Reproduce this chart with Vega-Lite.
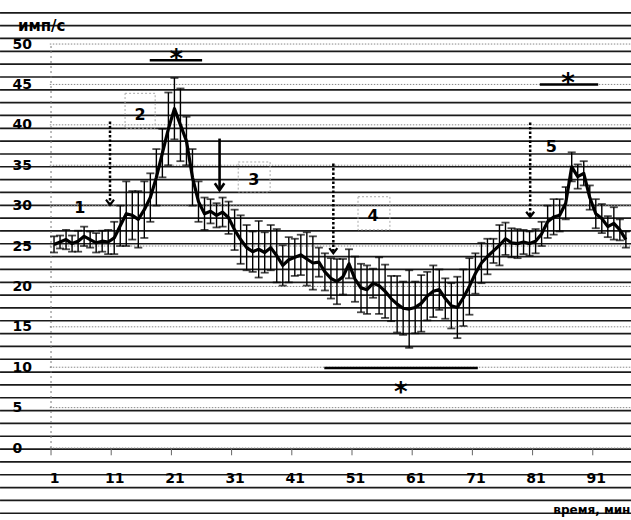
{
  "$schema": "https://vega.github.io/schema/vega-lite/v6.json",
  "width": 591,
  "height": 470,
  "padding": {"left": 40, "top": 0, "right": 0, "bottom": 50},
  "autosize": {"type": "none"},
  "background": "white",
  "config": {"view": {"stroke": null}},
  "datasets": {
    "pts": [
      {"t":1,"m":25.2,"lo":24.2,"hi":26.2},{"t":2,"m":25.5,"lo":24.7,"hi":26.3},{"t":3,"m":25.8,"lo":24.6,"hi":27.0},{"t":4,"m":25.3,"lo":24.3,"hi":26.3},{"t":5,"m":25.6,"lo":24.3,"hi":26.9},{"t":6,"m":26.2,"lo":25.0,"hi":27.4},{"t":7,"m":25.8,"lo":24.8,"hi":26.8},{"t":8,"m":25.4,"lo":24.2,"hi":26.6},{"t":9,"m":25.6,"lo":24.3,"hi":26.9},{"t":10,"m":25.5,"lo":24.0,"hi":27.0},
      {"t":11,"m":26.0,"lo":24.0,"hi":28.0},{"t":12,"m":27.5,"lo":25.0,"hi":30.0},{"t":13,"m":29.0,"lo":25.0,"hi":33.0},{"t":14,"m":28.8,"lo":25.8,"hi":31.8},{"t":15,"m":28.3,"lo":24.8,"hi":31.8},{"t":16,"m":29.5,"lo":26.0,"hi":33.0},{"t":17,"m":31.0,"lo":28.0,"hi":34.0},{"t":18,"m":33.5,"lo":30.0,"hi":37.0},{"t":19,"m":36.5,"lo":33.5,"hi":39.5},{"t":20,"m":39.5,"lo":35.0,"hi":44.0},
      {"t":21,"m":42.0,"lo":38.2,"hi":45.8},{"t":22,"m":40.0,"lo":35.5,"hi":44.5},{"t":23,"m":38.0,"lo":35.0,"hi":41.0},{"t":24,"m":33.5,"lo":30.0,"hi":37.0},{"t":25,"m":30.5,"lo":28.0,"hi":33.0},{"t":26,"m":29.0,"lo":27.0,"hi":31.0},{"t":27,"m":29.3,"lo":27.8,"hi":30.8},{"t":28,"m":28.8,"lo":27.3,"hi":30.3},{"t":29,"m":29.2,"lo":27.4,"hi":31.0},{"t":30,"m":28.5,"lo":26.5,"hi":30.5},
      {"t":31,"m":27.0,"lo":24.5,"hi":29.5},{"t":32,"m":25.8,"lo":22.8,"hi":28.8},{"t":33,"m":24.8,"lo":22.0,"hi":27.6},{"t":34,"m":24.3,"lo":21.8,"hi":26.8},{"t":35,"m":24.6,"lo":21.1,"hi":28.1},{"t":36,"m":24.2,"lo":21.7,"hi":26.7},{"t":37,"m":24.8,"lo":22.0,"hi":27.6},{"t":38,"m":23.8,"lo":20.5,"hi":27.1},{"t":39,"m":22.6,"lo":20.1,"hi":25.1},{"t":40,"m":23.3,"lo":20.5,"hi":26.1},
      {"t":41,"m":23.6,"lo":21.3,"hi":25.9},{"t":42,"m":23.9,"lo":21.4,"hi":26.4},{"t":43,"m":23.4,"lo":20.1,"hi":26.7},{"t":44,"m":22.9,"lo":19.6,"hi":26.2},{"t":45,"m":23.0,"lo":21.2,"hi":24.8},{"t":46,"m":21.8,"lo":19.5,"hi":24.1},{"t":47,"m":21.0,"lo":18.5,"hi":23.5},{"t":48,"m":20.6,"lo":17.8,"hi":23.4},{"t":49,"m":21.2,"lo":19.0,"hi":23.4},{"t":50,"m":22.8,"lo":21.0,"hi":24.6},
      {"t":51,"m":20.9,"lo":18.1,"hi":23.7},{"t":52,"m":19.8,"lo":16.8,"hi":22.8},{"t":53,"m":19.6,"lo":16.6,"hi":22.6},{"t":54,"m":20.4,"lo":18.6,"hi":22.2},{"t":55,"m":20.1,"lo":16.6,"hi":23.6},{"t":56,"m":19.4,"lo":16.1,"hi":22.7},{"t":57,"m":18.5,"lo":15.7,"hi":21.3},{"t":58,"m":17.8,"lo":14.3,"hi":21.3},{"t":59,"m":17.3,"lo":14.0,"hi":20.6},{"t":60,"m":17.2,"lo":12.4,"hi":22.0},
      {"t":61,"m":17.4,"lo":14.2,"hi":20.6},{"t":62,"m":17.9,"lo":14.4,"hi":21.4},{"t":63,"m":18.8,"lo":15.8,"hi":21.8},{"t":64,"m":19.4,"lo":16.2,"hi":22.6},{"t":65,"m":19.6,"lo":17.1,"hi":22.1},{"t":66,"m":18.5,"lo":16.0,"hi":21.0},{"t":67,"m":17.6,"lo":14.8,"hi":20.4},{"t":68,"m":17.4,"lo":13.6,"hi":21.2},{"t":69,"m":18.6,"lo":15.1,"hi":22.1},{"t":70,"m":20.0,"lo":16.5,"hi":23.5},
      {"t":71,"m":21.6,"lo":19.1,"hi":24.1},{"t":72,"m":22.9,"lo":20.4,"hi":25.4},{"t":73,"m":23.7,"lo":21.5,"hi":25.9},{"t":74,"m":24.4,"lo":22.9,"hi":25.9},{"t":75,"m":25.1,"lo":22.6,"hi":27.6},{"t":76,"m":25.9,"lo":23.9,"hi":27.9},{"t":77,"m":25.4,"lo":23.6,"hi":27.2},{"t":78,"m":25.3,"lo":23.5,"hi":27.1},{"t":79,"m":25.5,"lo":24.0,"hi":27.0},{"t":80,"m":25.3,"lo":23.8,"hi":26.8},
      {"t":81,"m":25.6,"lo":24.1,"hi":27.1},{"t":82,"m":26.5,"lo":25.0,"hi":28.0},{"t":83,"m":28.0,"lo":26.0,"hi":30.0},{"t":84,"m":28.6,"lo":26.4,"hi":30.8},{"t":85,"m":28.8,"lo":26.8,"hi":30.8},{"t":86,"m":30.3,"lo":28.3,"hi":32.3},{"t":87,"m":34.8,"lo":33.0,"hi":36.6},{"t":88,"m":33.6,"lo":32.1,"hi":35.1},{"t":89,"m":34.0,"lo":32.5,"hi":35.5},{"t":90,"m":31.0,"lo":29.5,"hi":32.5},
      {"t":91,"m":29.0,"lo":27.2,"hi":30.8},{"t":92,"m":28.4,"lo":26.6,"hi":30.2},{"t":93,"m":27.4,"lo":26.1,"hi":28.7},{"t":94,"m":27.8,"lo":25.8,"hi":29.8},{"t":95,"m":27.0,"lo":25.7,"hi":28.3},{"t":96,"m":25.8,"lo":24.8,"hi":26.8}
    ],
    "paper": [
      {"v":53.86},{"v":52.27},{"v":50.69},{"v":49.10},{"v":47.51},{"v":45.92},{"v":44.33},{"v":42.75},{"v":41.16},{"v":39.57},
      {"v":37.98},{"v":36.39},{"v":34.81},{"v":33.22},{"v":31.63},{"v":30.04},{"v":28.45},{"v":26.87},{"v":25.28},{"v":23.69},
      {"v":22.10},{"v":20.51},{"v":18.93},{"v":17.34},{"v":15.75},{"v":14.16},{"v":12.57},{"v":10.99},{"v":9.40},{"v":7.81},
      {"v":6.22},{"v":4.64},{"v":3.05},{"v":1.46},{"v":-0.13},{"v":-1.72},{"v":-3.31},{"v":-4.89},{"v":-6.48},{"v":-8.07}
    ],
    "grid": [{"v":0},{"v":5},{"v":10},{"v":15},{"v":20},{"v":25},{"v":30},{"v":35},{"v":40},{"v":45},{"v":50}],
    "ticks": [{"t":0.5},{"t":10.5},{"t":20.5},{"t":30.5},{"t":40.5},{"t":50.5},{"t":60.5},{"t":70.5},{"t":80.5},{"t":90.5}],
    "boxes": [
      {"a":12.8,"b":17.8,"c":39.6,"d":43.9},
      {"a":31.6,"b":36.9,"c":31.7,"d":35.4},
      {"a":51.5,"b":56.8,"c":27.0,"d":31.1}
    ],
    "sig": [
      {"a":16.9,"b":25.6,"v":48.0},
      {"a":81.7,"b":91.4,"v":45.0},
      {"a":45.9,"b":71.4,"v":9.9}
    ],
    "stars": [
      {"t":21.3,"v":48.9,"s":"*"},
      {"t":86.4,"v":45.9,"s":"*"},
      {"t":58.6,"v":7.7,"s":"*"}
    ],
    "darrows": [
      {"t":10.3,"top":40.4,"tip":30.1},
      {"t":47.4,"top":35.2,"tip":24.1},
      {"t":80.1,"top":40.3,"tip":28.6}
    ],
    "sarrows": [
      {"t":28.5,"top":38.3,"tip":31.9}
    ],
    "labels": [
      {"t":5.3,"v":29.7,"s":"1"},
      {"t":15.3,"v":41.2,"s":"2"},
      {"t":34.2,"v":33.2,"s":"3"},
      {"t":54.0,"v":28.7,"s":"4"},
      {"t":83.6,"v":37.3,"s":"5"}
    ]
  },
  "layer": [
    {
      "data": {"name": "paper"},
      "mark": {"type": "rule", "stroke": "#1a1a1a", "strokeWidth": 1.7},
      "encoding": {
        "x": {"datum": -7.97, "type": "quantitative", "scale": {"domain": [-1.33, 96.85], "nice": false, "zero": false}},
        "x2": {"datum": 96.85},
        "y": {"field": "v", "type": "quantitative", "scale": {"domain": [-2.72, 55.45], "nice": false, "zero": false}}
      }
    },
    {
      "data": {"name": "grid"},
      "mark": {"type": "rule", "stroke": "#888", "strokeWidth": 1, "strokeDash": [1.5, 1.5]},
      "encoding": {
        "x": {"datum": 0.3, "type": "quantitative"},
        "x2": {"datum": 96.85},
        "y": {"field": "v", "type": "quantitative"}
      }
    },
    {
      "data": {"values": [{"a": 0}]},
      "mark": {"type": "rule", "stroke": "#777", "strokeWidth": 1, "strokeDash": [2, 3]},
      "encoding": {
        "x": {"datum": 0.5, "type": "quantitative"},
        "y": {"datum": 0, "type": "quantitative"},
        "y2": {"datum": 50}
      }
    },
    {
      "data": {"name": "ticks"},
      "mark": {"type": "rule", "stroke": "#666", "strokeWidth": 1},
      "encoding": {
        "x": {"field": "t", "type": "quantitative"},
        "y": {"datum": 0, "type": "quantitative"},
        "y2": {"datum": -0.9}
      }
    },
    {
      "data": {"name": "boxes"},
      "mark": {"type": "rect", "fill": null, "stroke": "#aaa", "strokeWidth": 1, "strokeDash": [2, 2]},
      "encoding": {
        "x": {"field": "a", "type": "quantitative"},
        "x2": {"field": "b"},
        "y": {"field": "c", "type": "quantitative"},
        "y2": {"field": "d"}
      }
    },
    {
      "data": {"name": "pts"},
      "mark": {"type": "rule", "stroke": "#000", "strokeWidth": 1.4},
      "encoding": {
        "x": {"field": "t", "type": "quantitative"},
        "y": {"field": "lo", "type": "quantitative"},
        "y2": {"field": "hi"}
      }
    },
    {
      "data": {"name": "pts"},
      "mark": {"type": "tick", "orient": "horizontal", "color": "#000", "size": 8, "thickness": 1.8},
      "encoding": {
        "x": {"field": "t", "type": "quantitative"},
        "y": {"field": "lo", "type": "quantitative"}
      }
    },
    {
      "data": {"name": "pts"},
      "mark": {"type": "tick", "orient": "horizontal", "color": "#000", "size": 8, "thickness": 1.8},
      "encoding": {
        "x": {"field": "t", "type": "quantitative"},
        "y": {"field": "hi", "type": "quantitative"}
      }
    },
    {
      "data": {"name": "pts"},
      "mark": {"type": "line", "stroke": "#000", "strokeWidth": 3.2, "strokeJoin": "round"},
      "encoding": {
        "x": {"field": "t", "type": "quantitative",
              "axis": {"values": [1,11,21,31,41,51,61,71,81,91], "orient": "bottom", "domain": false, "ticks": false, "tickSize": 0, "grid": false, "title": null, "labelPadding": 1, "labelFont": "DejaVu Sans", "labelFontWeight": "bold", "labelFontSize": 14, "labelColor": "#000", "labelFlush": false, "zindex": 1}},
        "y": {"field": "m", "type": "quantitative",
              "axis": {"values": [0,5,10,15,20,25,30,35,40,45,50], "orient": "left", "labelAlign": "left", "labelBaseline": "middle", "ticks": false, "tickSize": 0, "labelPadding": 28, "domain": false, "grid": false, "title": null, "labelFont": "DejaVu Sans", "labelFontWeight": "bold", "labelFontSize": 14, "labelColor": "#000", "zindex": 1}}
      }
    },
    {
      "data": {"name": "sig"},
      "mark": {"type": "rule", "stroke": "#000", "strokeWidth": 2.5},
      "encoding": {
        "x": {"field": "a", "type": "quantitative"},
        "x2": {"field": "b"},
        "y": {"field": "v", "type": "quantitative"}
      }
    },
    {
      "data": {"name": "stars"},
      "mark": {"type": "text", "font": "DejaVu Sans", "fontWeight": "bold", "fontSize": 26, "align": "center", "baseline": "middle", "dy": 7, "color": "#000"},
      "encoding": {
        "x": {"field": "t", "type": "quantitative"},
        "y": {"field": "v", "type": "quantitative"},
        "text": {"field": "s"}
      }
    },
    {
      "data": {"name": "darrows"},
      "mark": {"type": "rule", "stroke": "#000", "strokeWidth": 2.5, "strokeDash": [2.5, 2]},
      "encoding": {
        "x": {"field": "t", "type": "quantitative"},
        "y": {"field": "top", "type": "quantitative"},
        "y2": {"field": "tip"}
      }
    },
    {
      "data": {"name": "sarrows"},
      "mark": {"type": "rule", "stroke": "#000", "strokeWidth": 2.6},
      "encoding": {
        "x": {"field": "t", "type": "quantitative"},
        "y": {"field": "top", "type": "quantitative"},
        "y2": {"field": "tip"}
      }
    },
    {
      "data": {"name": "darrows"},
      "mark": {"type": "point", "shape": "M-1,-1.3L0,0L1,-1.3", "filled": false, "stroke": "#000", "strokeWidth": 2.2, "size": 64, "opacity": 1},
      "encoding": {
        "x": {"field": "t", "type": "quantitative"},
        "y": {"field": "tip", "type": "quantitative"}
      }
    },
    {
      "data": {"name": "sarrows"},
      "mark": {"type": "point", "shape": "M-1,-1.5L0,0L1,-1.5", "filled": false, "stroke": "#000", "strokeWidth": 2.6, "size": 90, "opacity": 1},
      "encoding": {
        "x": {"field": "t", "type": "quantitative"},
        "y": {"field": "tip", "type": "quantitative"}
      }
    },
    {
      "data": {"name": "labels"},
      "mark": {"type": "text", "font": "DejaVu Sans", "fontWeight": "bold", "fontSize": 16, "align": "center", "baseline": "middle", "color": "#000"},
      "encoding": {
        "x": {"field": "t", "type": "quantitative"},
        "y": {"field": "v", "type": "quantitative"},
        "text": {"field": "s"}
      }
    },
    {
      "data": {"values": [{"t": -5.0, "v": 52.2, "s": "имп/с"}]},
      "mark": {"type": "text", "font": "DejaVu Sans", "fontWeight": "bold", "fontSize": 15, "align": "left", "baseline": "middle", "color": "#000"},
      "encoding": {
        "x": {"field": "t", "type": "quantitative"},
        "y": {"field": "v", "type": "quantitative"},
        "text": {"field": "s"}
      }
    },
    {
      "data": {"values": [{"t": 96.75, "v": -7.7, "s": "время, мин"}]},
      "mark": {"type": "text", "font": "DejaVu Sans", "fontWeight": "bold", "fontSize": 12, "align": "right", "baseline": "middle", "color": "#000"},
      "encoding": {
        "x": {"field": "t", "type": "quantitative"},
        "y": {"field": "v", "type": "quantitative"},
        "text": {"field": "s"}
      }
    }
  ]
}
